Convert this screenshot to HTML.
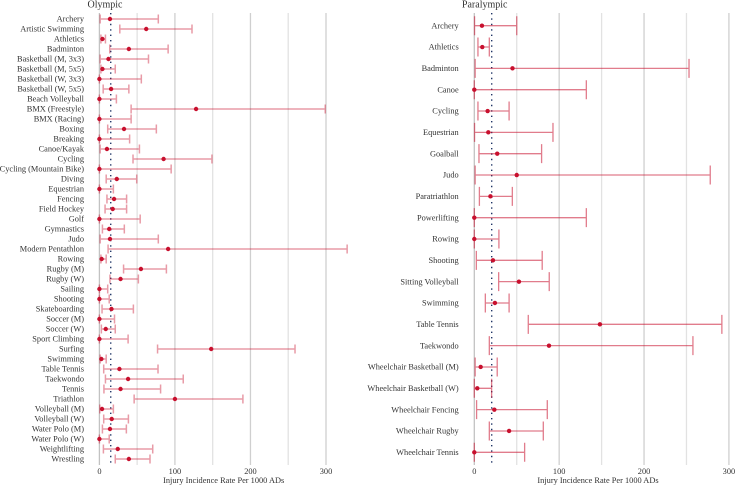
<!DOCTYPE html>
<html>
<head>
<meta charset="utf-8">
<style>
html,body{margin:0;padding:0;background:#fff;}
svg{display:block;}
text{font-family:"Liberation Serif",serif;fill:#333;}
</style>
</head>
<body>
<svg id="chart" width="735" height="485" viewBox="0 0 735 485" xmlns="http://www.w3.org/2000/svg">
<text x="105" y="7.5" font-size="10" text-anchor="middle">Olympic</text>
<text x="484.7" y="7.5" font-size="10" text-anchor="middle">Paralympic</text>
<text x="223.7" y="483" font-size="8.35" text-anchor="middle">Injury Incidence Rate Per 1000 ADs</text>
<text x="598" y="483" font-size="8.35" text-anchor="middle">Injury Incidence Rate Per 1000 ADs</text>
</svg>
<script>
const olympicSports = ["Archery","Artistic Swimming","Athletics","Badminton","Basketball (M, 3x3)","Basketball (M, 5x5)","Basketball (W, 3x3)","Basketball (W, 5x5)","Beach Volleyball","BMX (Freestyle)","BMX (Racing)","Boxing","Breaking","Canoe/Kayak","Cycling","Cycling (Mountain Bike)","Diving","Equestrian","Fencing","Field Hockey","Golf","Gymnastics","Judo","Modern Pentathlon","Rowing","Rugby (M)","Rugby (W)","Sailing","Shooting","Skateboarding","Soccer (M)","Soccer (W)","Sport Climbing","Surfing","Swimming","Table Tennis","Taekwondo","Tennis","Triathlon","Volleyball (M)","Volleyball (W)","Water Polo (M)","Water Polo (W)","Weightlifting","Wrestling"];
const olympicLow = [1,27,2,13.7,1,2,0,5,0,42,0,11,0,1,44.5,0,9,0,10,7.5,0,4,1,11.5,2,32,14,0,0,3.5,0,2.6,0,77,1,5.7,8,6,46,0.5,5.7,4,0,5.3,21];
const olympicRate = [14,62,4,39,12,4,0,15.5,0,128,0,32.6,0,10,85,0,23,0,19.4,17.6,0,13,14,91,3,55,28,0,0,16,0,8.4,0,148,2.6,26.5,38,28,100,3.5,16.3,14,0,24.3,39];
const olympicHigh = [78,122.6,8,91,65,21,55.5,39,22.5,299,42,75.4,40,53,149,95,49.4,18.5,36,36,54,33,78,328,9,88.7,51.6,11,13,45,20,21,38,259,9,77.6,111,81,190,18.5,38.4,35.7,13,70.6,67];
const olympicMean = [15];

const paralympicSports = ["Archery","Athletics","Badminton","Canoe","Cycling","Equestrian","Goalball","Judo","Paratriathlon","Powerlifting","Rowing","Shooting","Sitting Volleyball","Swimming","Table Tennis","Taekwondo","Wheelchair Basketball (M)","Wheelchair Basketball (W)","Wheelchair Fencing","Wheelchair Rugby","Wheelchair Tennis"];
const paralympicLow = [0.3,4.3,1,0,4.3,0.3,5.5,1,6,0,0,2.4,28.7,13,63.6,17.7,1,0,2.7,17.7,0];
const paralympicRate = [9,9.4,45,0,15.7,16.5,27,50,19,0,0,22,52.6,24.3,148,88,7.5,3.5,23.6,41,0];
const paralympicHigh = [50,17.7,253,132,41,92.7,79.3,278,44.8,132,29,80,88.3,41,291.7,257.6,27,20.4,86,81.3,59.3];
const paralympicMean = [20.5];

const gridValues = [0,50,100,150,200,250,300];
const tickValues = [0,100,200,300];

const svg = document.getElementById('chart');
const NS = 'http://www.w3.org/2000/svg';
const RED = '#c8102e';

function make(tag, attrs, parent) {
  const el = document.createElementNS(NS, tag);
  for (const k in attrs) el.setAttribute(k, attrs[k]);
  parent.appendChild(el);
  return el;
}

function drawPanel(o) {
  const x = v => o.x0 + v * o.pxPerUnit;
  const y = i => o.yFirst + i * o.rowStep;

  const group = make('g', {}, svg);
  
  

  gridValues.forEach(v => {
    const major = v % 100 === 0;
    const g = make('line', {x1:x(v), x2:x(v), y1:13, y2:465, stroke: v === 0 ? '#c2c2c2' : (major ? '#cfcfcf' : '#e2e2e2'), 'stroke-width':1.3}, group);
    
    
  });

  o.mean.forEach(m => {
    const d = make('line', {x1:x(m), x2:x(m), y1:13, y2:465, stroke:'#1f3466', 'stroke-width':1.4, 'stroke-dasharray':'1.4 4'}, group);
    
    
  });

  o.sports.forEach((s, i) => {
    const row = make('g', {}, group);
    
    

    const t = make('text', {x:o.labelX, y:y(i) + 2.7, 'font-size':o.fontSize, 'text-anchor':'end'}, row);
    
    
    t.textContent = s;

    const ci = make('path', {
      d: 'M' + x(o.low[i]) + ' ' + (y(i) - o.cap) + 'V' + (y(i) + o.cap) +
         'M' + x(o.low[i]) + ' ' + y(i) + 'H' + x(o.high[i]) +
         'M' + x(o.high[i]) + ' ' + (y(i) - o.cap) + 'V' + (y(i) + o.cap),
      fill:'none', stroke:RED, 'stroke-opacity':o.ciOpacity, 'stroke-width':o.ciWidth
    }, row);
    
    

    const dot = make('circle', {cx:x(o.rate[i]), cy:y(i), r:2.2, fill:RED}, row);
    
    
  });

  tickValues.forEach(v => {
    const t = make('text', {x:x(v), y:473.8, 'font-size':8.35, 'text-anchor':'middle'}, group);
    
    
    t.textContent = v;
  });
}

drawPanel({name:'olympic', sports:olympicSports, low:olympicLow, rate:olympicRate, high:olympicHigh, mean:olympicMean,
  x0:99.4, pxPerUnit:0.7553, yFirst:19, rowStep:10, cap:4.5, labelX:84, fontSize:8.35, ciOpacity:0.42, ciWidth:1.5});
drawPanel({name:'paralympic', sports:paralympicSports, low:paralympicLow, rate:paralympicRate, high:paralympicHigh, mean:paralympicMean,
  x0:474.3, pxPerUnit:0.8487, yFirst:25.7, rowStep:21.33, cap:9.5, labelX:458.7, fontSize:8.35, ciOpacity:0.55, ciWidth:1.3});
</script>
</body>
</html>
